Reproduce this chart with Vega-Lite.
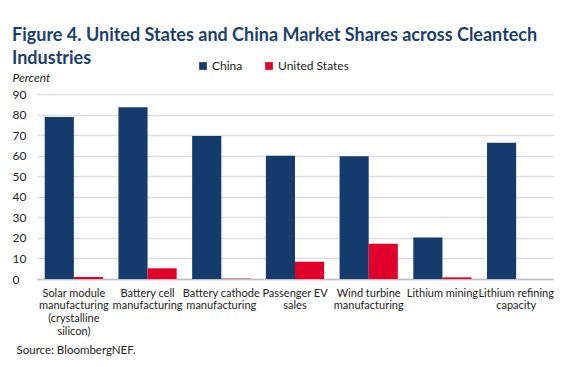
{
  "$schema": "https://vega.github.io/schema/vega-lite/v6.json",
  "width": 516,
  "height": 185,
  "autosize": {"type": "none"},
  "padding": {"left": 37, "top": 94, "right": 11, "bottom": 88},
  "background": "white",
  "title": {
    "text": ["Figure 4. United States and China Market Shares across Cleantech", "Industries"],
    "anchor": "start",
    "frame": "bounds",
    "font": "Lato",
    "fontSize": 18,
    "fontWeight": "bold",
    "color": "#1B3F6B",
    "lineHeight": 23,
    "offset": -8
  },
  "data": {
    "values": [
      {"industry": "Solar module|manufacturing|(crystalline|silicon)", "country": "China", "share": 78.8, "o": 1},
      {"industry": "Solar module|manufacturing|(crystalline|silicon)", "country": "United States", "share": 1.0, "o": 1},
      {"industry": "Battery cell|manufacturing", "country": "China", "share": 83.5, "o": 2},
      {"industry": "Battery cell|manufacturing", "country": "United States", "share": 5.2, "o": 2},
      {"industry": "Battery cathode|manufacturing", "country": "China", "share": 69.6, "o": 3},
      {"industry": "Battery cathode|manufacturing", "country": "United States", "share": 0.2, "o": 3},
      {"industry": "Passenger EV|sales", "country": "China", "share": 60.0, "o": 4},
      {"industry": "Passenger EV|sales", "country": "United States", "share": 8.4, "o": 4},
      {"industry": "Wind turbine|manufacturing", "country": "China", "share": 59.7, "o": 5},
      {"industry": "Wind turbine|manufacturing", "country": "United States", "share": 17.2, "o": 5},
      {"industry": "Lithium mining", "country": "China", "share": 20.2, "o": 6},
      {"industry": "Lithium mining", "country": "United States", "share": 0.8, "o": 6},
      {"industry": "Lithium refining|capacity", "country": "China", "share": 66.3, "o": 7},
      {"industry": "Lithium refining|capacity", "country": "United States", "share": 0, "o": 7}
    ]
  },
  "mark": {"type": "bar"},
  "encoding": {
    "x": {
      "field": "industry",
      "type": "nominal",
      "sort": {"field": "o"},
      "scale": {"paddingInner": 0.21, "paddingOuter": 0.105},
      "axis": {
        "labelExpr": "split(datum.label, '|')",
        "labelAngle": 0,
        "labelFont": "Lato",
        "labelFontSize": 11,
        "labelColor": "#222222",
        "labelLineHeight": 12.7,
        "labelPadding": 8,
        "labelBaseline": "top",
        "ticks": false,
        "domainColor": "#BFBFBF",
        "domainWidth": 1.5,
        "title": "Source: BloombergNEF.",
        "titleFont": "Lato",
        "titleFontSize": 11.5,
        "titleFontWeight": "normal",
        "titleColor": "#222222",
        "titleAnchor": "start",
        "titleAlign": "left",
        "titleBaseline": "alphabetic",
        "titleX": -21,
        "titleY": 74
      }
    },
    "xOffset": {"field": "country", "type": "nominal", "scale": {"paddingInner": 0, "paddingOuter": 0}},
    "y": {
      "field": "share",
      "type": "quantitative",
      "scale": {"domain": [0, 90]},
      "axis": {
        "values": [0, 10, 20, 30, 40, 50, 60, 70, 80, 90],
        "ticks": false,
        "domain": false,
        "gridColor": "#DDDDDD",
        "gridWidth": 1.5,
        "labelFont": "Lato",
        "labelFontSize": 12,
        "labelColor": "#222222",
        "labelAlign": "left",
        "labelPadding": 25,
        "title": "Percent",
        "titleFont": "Lato",
        "titleFontSize": 12,
        "titleFontStyle": "italic",
        "titleFontWeight": "normal",
        "titleColor": "#222222",
        "titleAngle": 0,
        "titleAlign": "left",
        "titleBaseline": "alphabetic",
        "titleX": -25,
        "titleY": -13
      }
    },
    "color": {
      "field": "country",
      "type": "nominal",
      "scale": {"domain": ["China", "United States"], "range": ["#143B6C", "#E1002A"]},
      "legend": {
        "title": null,
        "orient": "none",
        "direction": "horizontal",
        "legendX": 160,
        "legendY": -34,
        "symbolType": "square",
        "symbolSize": 60,
        "symbolOpacity": 1,
        "labelFont": "Lato",
        "labelFontSize": 12,
        "labelColor": "#222222",
        "columnPadding": 20,
        "labelOffset": 3
      }
    }
  },
  "config": {"view": {"stroke": null}}
}
